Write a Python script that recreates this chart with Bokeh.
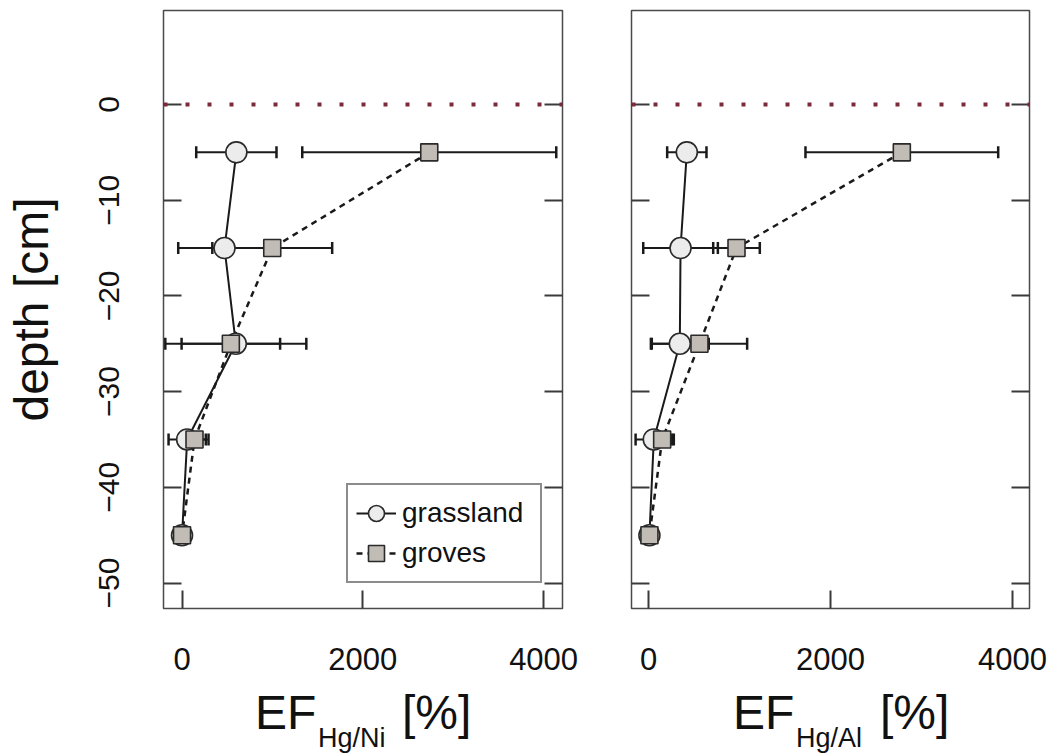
import numpy as np
from bokeh.plotting import figure
from bokeh.models import (Range1d, LinearAxis, FixedTicker, Span, Div,
                          Legend, LegendItem, ColumnDataSource)
from bokeh.layouts import row, column
from bokeh.embed import file_html
from bokeh.resources import INLINE

# sampling depths (cm, negative = below surface)
depth = [-5, -15, -25, -35, -45]

# enrichment factor Hg/Ni (%), mean and error
ni_grassland = [601, 470, 595, 57, 0]
ni_grassland_err = [444, 512, 780, 206, 25]
ni_groves = [2735, 998, 540, 138, 0]
ni_groves_err = [1405, 663, 545, 155, 25]

# enrichment factor Hg/Al (%), mean and error
al_grassland = [421, 352, 344, 58, 10]
al_grassland_err = [216, 410, 318, 200, 20]
al_groves = [2784, 967, 560, 150, 10]
al_groves_err = [1059, 256, 524, 128, 20]

x_ticks = [0, 2000, 4000]
y_ticks = [0, -10, -20, -30, -40, -50]
y_tick_labels = ["0", "\u221210", "\u221220", "\u221230", "\u221240", "\u221250"]
series_names = ["grassland", "groves"]
x_subscripts = ["Hg/Ni", "Hg/Al"]

FONT = "Liberation Sans"
INK = "#1a1a1a"
FRAME = "#4a4a4a"
CIRCLE_FILL = "#ececec"
SQUARE_FILL = "#c2bcb6"
SURFACE = "#7a2a38"
FIG_H = 690


def style_axis(ax, ticks):
    ax.ticker = FixedTicker(ticks=ticks)
    ax.minor_tick_line_color = None
    ax.axis_line_color = None
    ax.major_tick_in = 18
    ax.major_tick_out = 0
    ax.major_tick_line_color = "#3a3a3a"
    ax.major_tick_line_width = 2
    ax.major_label_text_font = FONT
    ax.major_label_text_color = "#111111"


def blank_labels(ax, ticks):
    ax.major_label_overrides = {t: "" for t in ticks}
    ax.major_label_standoff = 0


def make_panel(x_lo, x_hi, grass, grass_err, grove, grove_err,
               border_left, border_right, width, first):
    p = figure(width=width, height=FIG_H,
               x_range=Range1d(x_lo, x_hi), y_range=Range1d(-52.66, 9.82),
               min_border_left=border_left, min_border_right=border_right,
               min_border_top=10, min_border_bottom=FIG_H - 608,
               output_backend="svg", toolbar_location=None)
    p.grid.visible = False
    p.outline_line_color = FRAME
    p.outline_line_width = 1.5
    p.background_fill_color = "white"
    p.border_fill_color = "white"

    # bottom axis
    xa = p.xaxis[0]
    style_axis(xa, x_ticks)
    xa.major_label_text_font_size = "31px"
    xa.major_label_standoff = 39

    # left axis
    ya = p.yaxis[0]
    style_axis(ya, y_ticks)
    if first:
        ya.major_label_overrides = {t: s for t, s in zip(y_ticks, y_tick_labels)}
        ya.major_label_orientation = "vertical"
        ya.major_label_text_font_size = "30px"
        ya.major_label_standoff = 44
        ya.axis_label = "depth [cm]"
        ya.axis_label_text_font = FONT
        ya.axis_label_text_font_size = "48px"
        ya.axis_label_text_font_style = "normal"
        ya.axis_label_text_color = "#111111"
        ya.axis_label_standoff = 39
    else:
        blank_labels(ya, y_ticks)

    # right axis: inward ticks only
    ra = LinearAxis()
    style_axis(ra, y_ticks)
    blank_labels(ra, y_ticks)
    p.add_layout(ra, "right")

    # soil surface
    p.add_layout(Span(location=0, dimension="width", line_color=SURFACE,
                      line_width=4, line_dash="4 18"))

    src_g = ColumnDataSource(dict(
        x=grass, y=depth,
        lo=[v - e for v, e in zip(grass, grass_err)],
        hi=[v + e for v, e in zip(grass, grass_err)]))
    src_s = ColumnDataSource(dict(
        x=grove, y=depth,
        lo=[v - e for v, e in zip(grove, grove_err)],
        hi=[v + e for v, e in zip(grove, grove_err)]))

    # error bars
    for src in (src_g, src_s):
        p.segment(x0="lo", x1="hi", y0="y", y1="y", source=src,
                  line_color=INK, line_width=2)
        for end in ("lo", "hi"):
            p.scatter(x=end, y="y", source=src, marker="dash", angle=np.pi / 2,
                      size=12, line_color=INK, line_width=2.5)

    # profiles
    lg = p.line("x", "y", source=src_g, line_color=INK, line_width=2)
    ls = p.line("x", "y", source=src_s, line_color=INK, line_width=2.5,
                line_dash="6 5")
    mg = p.scatter("x", "y", source=src_g, marker="circle", size=21,
                   fill_color=CIRCLE_FILL, line_color="#2a2a2a", line_width=1.6)
    ms = p.scatter("x", "y", source=src_s, marker="square", size=17,
                   fill_color=SQUARE_FILL, line_color="#2a2a2a", line_width=1.6)

    if first:
        legend = Legend(items=[
            LegendItem(label=series_names[0], renderers=[lg, mg]),
            LegendItem(label=series_names[1], renderers=[ls, ms]),
        ], location=(183, 25))
        legend.label_text_font = FONT
        legend.label_text_font_size = "28px"
        legend.label_text_color = "#111111"
        legend.glyph_width = 40
        legend.glyph_height = 40
        legend.label_width = 130
        legend.label_standoff = 6
        legend.padding = 8
        legend.spacing = 0
        legend.margin = 0
        legend.border_line_color = INK
        legend.border_line_width = 2
        legend.background_fill_color = "white"
        legend.background_fill_alpha = 1
        p.add_layout(legend)
    return p


p1 = make_panel(-205, 4209, ni_grassland, ni_grassland_err, ni_groves,
                ni_groves_err, 163, 34, 596, True)
p2 = make_panel(-187, 4187, al_grassland, al_grassland_err, al_groves,
                al_groves_err, 35, 35, 468, False)


# x-axis titles "EF_sub [%]" under each panel
def title_html(left, sub):
    base = (f"position:absolute;font-family:{FONT},Arial,sans-serif;"
            "color:#111111;white-space:nowrap;margin:0;padding:0;")
    big = base + "font-size:48px;line-height:40px;"
    small = base + "font-size:27px;line-height:24px;"
    return (f'<span style="{big}left:{left}px;top:3px">EF</span>'
            f'<span style="{small}left:{left + 63}px;top:36px">{sub}</span>'
            f'<span style="{big}left:{left + 147}px;top:3px">[%]</span>')


titles = Div(
    text=('<div style="position:relative;width:1064px;height:63px;'
          'background:white;margin:0;padding:0">'
          + title_html(255, x_subscripts[0]) + title_html(733, x_subscripts[1])
          + "</div>"),
    width=1064, height=753 - FIG_H, margin=0)

layout = column(row(p1, p2), titles)
open("out.html", "w").write(file_html(layout, INLINE))
